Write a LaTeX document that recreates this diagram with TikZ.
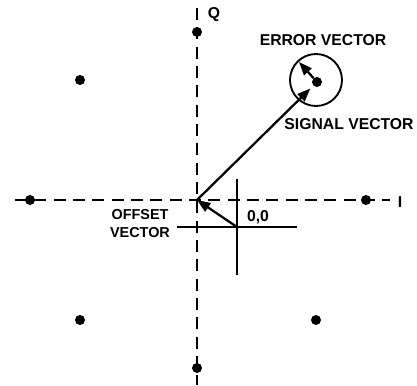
\documentclass[tikz,border=0pt]{standalone}
\usepackage{fontspec}
\setmainfont{Liberation Sans}
\usetikzlibrary{arrows.meta}

\begin{document}
\begin{tikzpicture}[
  x=0.75pt, y=0.75pt,
  >={Triangle[length=10pt,width=7.5pt]},
  axis/.style = {line width=1.7pt, dash pattern=on 9pt off 5.5pt},
  hair/.style = {line width=1.7pt},
  vec/.style  = {line width=1.7pt, ->},
  pt/.style   = {circle, fill=black, inner sep=0pt, minimum size=7.5pt},
  lbl/.style  = {font=\fontsize{11.8}{13}\selectfont\bfseries, inner sep=0pt},
  sml/.style  = {font=\fontsize{10.8}{13.5}\selectfont\bfseries, inner sep=0pt, align=center}
]
\useasboundingbox (0,0) rectangle (417,385);

% axis ends
\coordinate (il) at (15,185);
\coordinate (ir) at (390,185);
\coordinate (qt) at (197,377);
\coordinate (qb) at (197,0);
\coordinate (o)  at (197,185);

% dashed I/Q axes
\draw[axis] (il) -- (ir);
\draw[axis] (qt) -- (qb);
\node[lbl] (ilbl) at (400,183) {I};
\node[lbl] (qlbl) at (214,370) {Q};

% constellation points
\node[pt] (p1) at (197,353) {};
\node[pt] (p2) at (80,305)  {};
\node[pt] (p3) at (30,185)  {};
\node[pt] (p4) at (366,185) {};
\node[pt] (p5) at (80,65)   {};
\node[pt] (p6) at (316,65)  {};
\node[pt] (p7) at (197,17)  {};
\node[pt] (ps) at (317,303) {};

% error circle
\node[draw, circle, line width=1.4pt, minimum size=39pt, inner sep=0pt] (ring) at (316,305) {};

% shifted cross at true origin
\coordinate (c)  at (237,158);
\coordinate (ct) at (237,206);
\coordinate (cb) at (237,110);
\coordinate (cl) at (177,158);
\coordinate (cr) at (297,158);
\draw[hair] (ct) -- (cb);
\draw[hair] (cl) -- (cr);
\node[lbl] (zero) at (258,168) {0,0};

% vectors
\coordinate (etip) at (299,323);
\draw[vec] (c) -- (o);
\draw[vec, shorten >=3pt] (o) -- (ps);
\draw[vec] (ps) -- (etip);

% labels
\node[lbl] (elbl) at (323,345) {ERROR VECTOR};
\node[lbl] (slbl) at (349,261) {SIGNAL VECTOR};
\node[sml] (olbl) at (140,161) {OFFSET\\VECTOR};

\end{tikzpicture}
\end{document}
